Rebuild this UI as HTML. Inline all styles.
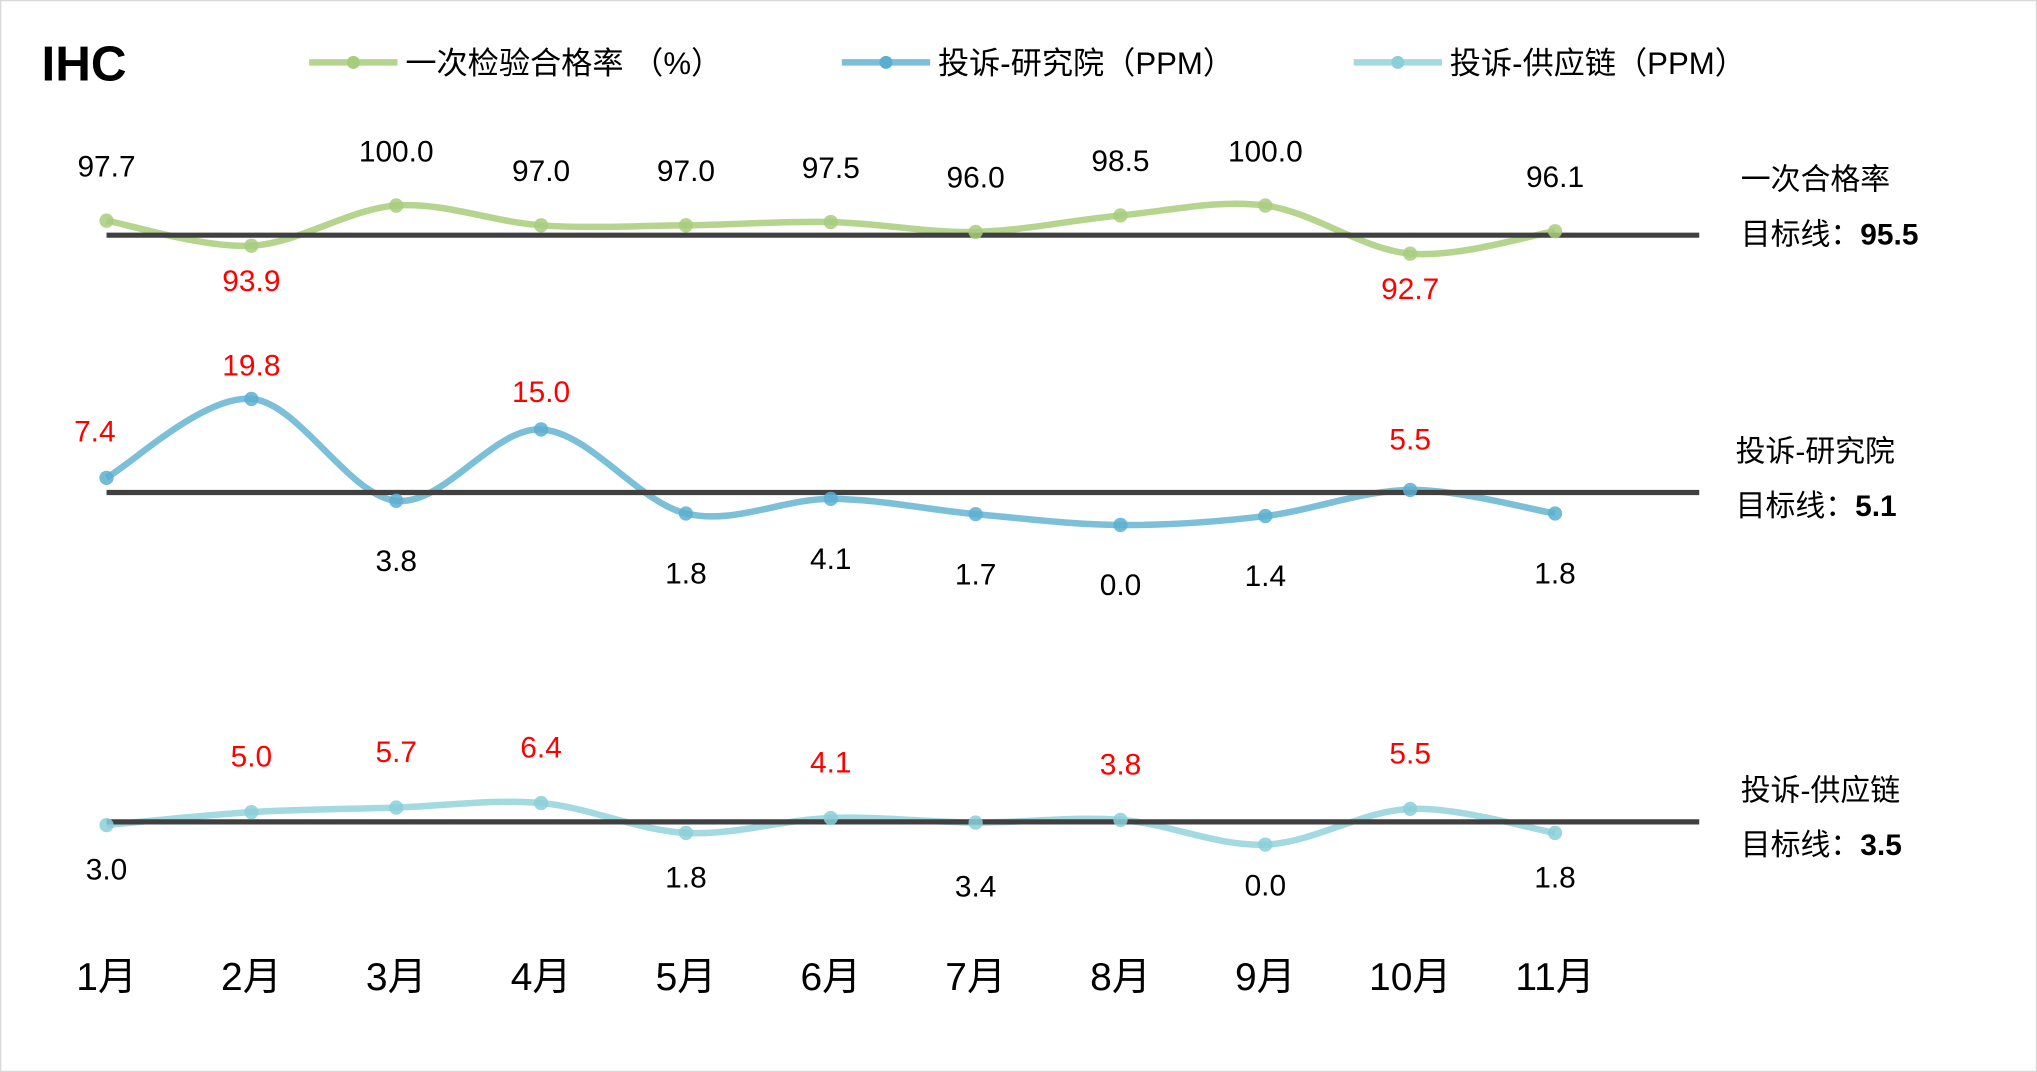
<!DOCTYPE html>
<html><head><meta charset="utf-8"><style>
html,body{margin:0;padding:0;background:#fff;}
svg{display:block;font-family:"Liberation Sans","Noto Sans CJK SC",sans-serif;}
</style></head><body>
<svg id="chart" width="2037" height="1072" viewBox="0 0 1568 825" preserveAspectRatio="none" xmlns="http://www.w3.org/2000/svg">
<rect x="0.5" y="0.5" width="1567" height="824" fill="#fff" stroke="#d9d9d9"/>
<text x="32" y="62" font-size="38" font-weight="bold" fill="#000">IHC</text>
<g>
<g><line x1="238" y1="48" x2="306" y2="48" stroke="#b5d58f" stroke-width="5"/><circle cx="272" cy="48" r="5" fill="#a7cc7c"/><text x="312" y="57" font-size="24" fill="#000">一次检验合格率 （%）</text></g>
<g><line x1="648" y1="48" x2="716" y2="48" stroke="#7bbfd8" stroke-width="5"/><circle cx="682" cy="48" r="5" fill="#5aafd0"/><text x="722" y="57" font-size="24" fill="#000">投诉-研究院（PPM）</text></g>
<g><line x1="1042" y1="48" x2="1110" y2="48" stroke="#a3d9e0" stroke-width="5"/><circle cx="1076" cy="48" r="5" fill="#8bcfd9"/><text x="1116" y="57" font-size="24" fill="#000">投诉-供应链（PPM）</text></g>
</g>
<g id="plots"></g>
<g id="xaxis"></g>
<g font-size="23" fill="#000">
<text x="1340" y="146">一次合格率</text>
<text x="1340" y="188">目标线：<tspan font-weight="bold">95.5</tspan></text>
<text x="1336" y="355">投诉-研究院</text>
<text x="1336" y="397">目标线：<tspan font-weight="bold">5.1</tspan></text>
<text x="1340" y="616">投诉-供应链</text>
<text x="1340" y="658">目标线：<tspan font-weight="bold">3.5</tspan></text>
</g>
</svg>
<script>
const months = ["1月","2月","3月","4月","5月","6月","7月","8月","9月","10月","11月"];
const passRate = [97.7,93.9,100.0,97.0,97.0,97.5,96.0,98.5,100.0,92.7,96.1];
const complaintInstitute = [7.4,19.8,3.8,15.0,1.8,4.1,1.7,0.0,1.4,5.5,1.8];
const complaintSupply = [3.0,5.0,5.7,6.4,1.8,4.1,3.4,3.8,0.0,5.5,1.8];
const targets = [95.5,5.1,3.5];

const NS="http://www.w3.org/2000/svg";
const xPos = i => 82 + i*111.5;
function mk(tag, attrs, parent){const e=document.createElementNS(NS,tag);for(const k in attrs)e.setAttribute(k,attrs[k]);parent.appendChild(e);return e;}
const plots=document.getElementById('plots');
const panels=[
 {name:'pass-rate',data:passRate,target:targets[0],y:v=>181-(v-95.5)*5.07,line:'#b5d58f',dot:'#a7cc7c',higherBetter:true},
 {name:'complaint-institute',data:complaintInstitute,target:targets[1],y:v=>404-v*4.9,line:'#7bbfd8',dot:'#5aafd0',higherBetter:false},
 {name:'complaint-supply',data:complaintSupply,target:targets[2],y:v=>650-v*5,line:'#a3d9e0',dot:'#8bcfd9',higherBetter:false}
];
panels.forEach(p=>{
 const g=mk('g',{},plots);
 
 
 const pts=p.data.map((v,i)=>[xPos(i),p.y(v)]);
 let d='M'+pts[0][0]+','+pts[0][1];
 for(let i=0;i<pts.length-1;i++){
  const p0=pts[Math.max(0,i-1)],p1=pts[i],p2=pts[i+1],p3=pts[Math.min(pts.length-1,i+2)];
  const t=0.5/3;
  const c1=[p1[0]+(p2[0]-p0[0])*t,p1[1]+(p2[1]-p0[1])*t];
  const c2=[p2[0]-(p3[0]-p1[0])*t,p2[1]-(p3[1]-p1[1])*t];
  d+=` C${c1[0]},${c1[1]} ${c2[0]},${c2[1]} ${p2[0]},${p2[1]}`;
 }
 const path=mk('path',{d:d,fill:'none',stroke:p.line,'stroke-width':5},g);
 
 
 const ty=p.y(p.target);
 const tl=mk('line',{x1:82,x2:1308,y1:ty,y2:ty,stroke:'#404040','stroke-width':4},g);
 
 
 p.data.forEach((v,i)=>{
  const c=mk('circle',{cx:pts[i][0],cy:pts[i][1],r:5.5,fill:p.dot,'fill-opacity':0.85},g);
  
  
  const bad = p.higherBetter ? v<p.target : v>p.target;
  let ly;
  if(p.higherBetter){ ly = bad ? pts[i][1]+35 : pts[i][1]-34; }
  else { ly = bad ? pts[i][1]-18 : pts[i][1]+54; }
  if(p.name==='complaint-institute' && bad && i===9) ly=pts[i][1]-31;
  if(p.name==='complaint-institute' && bad && i===3) ly=pts[i][1]-21;
  if(!p.higherBetter && bad && p.name==='complaint-supply') ly=pts[i][1]-35;
  if(!p.higherBetter && !bad && p.name==='complaint-supply') ly=pts[i][1]+42;
  if(p.name==='complaint-supply' && i===6) ly=pts[i][1]+57;
  if(p.name==='complaint-supply' && i===8) ly=pts[i][1]+39;
  let lx=pts[i][0]; if(i===0 && p.name==='complaint-institute'){lx=73;ly=pts[i][1]-28;}
  const t=mk('text',{x:lx,y:ly,'font-size':23,'text-anchor':'middle',fill:bad?'#ff0000':'#000'},g);
  t.textContent=v.toFixed(1);
  
  
 });
});
const xa=document.getElementById('xaxis');
months.forEach((m,i)=>{
 const t=mk('text',{x:xPos(i),y:762,'font-size':30,'text-anchor':'middle',fill:'#000'},xa);
 t.textContent=m;
 
 
});
</script>
</body></html>
